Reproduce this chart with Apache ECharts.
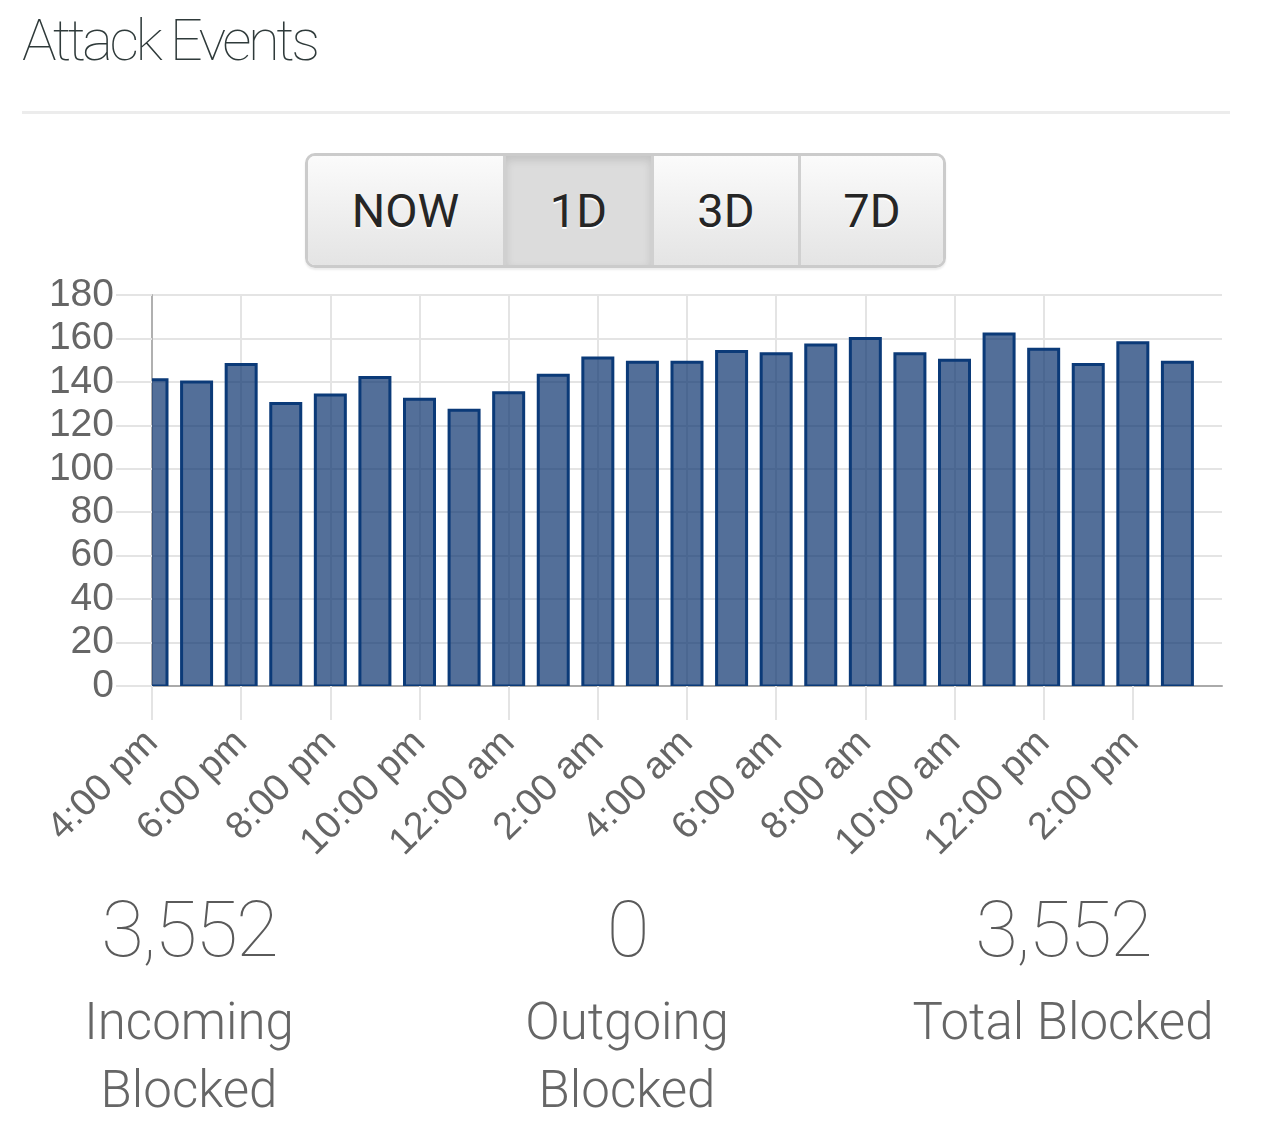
<!DOCTYPE html>
<html>
<head>
<meta charset="utf-8">
<script src="https://cdn.jsdelivr.net/npm/echarts@6/dist/echarts.min.js"></script>
<style>
    body { margin: 0; width: 1266px; height: 1136px; background: #fff; overflow: hidden; position: relative; }
    #graph-container { position: absolute; left: 0; top: 0; width: 1266px; height: 1136px; }
    .title { position: absolute; left: 22px; top: 6px; font-family: Roboto, sans-serif; font-weight: 100; font-size: 58px; letter-spacing: -3.5px; color: #2f3a3a; }
    .rule { position: absolute; left: 22px; top: 111px; width: 1208px; height: 3px; background: #ececec; }
    .btns { position: absolute; left: 305px; top: 153px; width: 635px; height: 109px; border: 3px solid #cbcbcb; border-radius: 10px; display: flex; overflow: hidden; box-shadow: 0 2px 2px rgba(0,0,0,0.08); }
    .btn { height: 100%; display: flex; align-items: center; justify-content: center; font-family: Roboto, sans-serif; font-size: 47px; color: #262626; text-shadow: 0 2px 0 #fff; background: linear-gradient(#fbfbfb, #e4e4e4); border-right: 3px solid #d0d0d0; box-sizing: border-box; }
    .btn:last-child { border-right: none; }
    .btn.on { background: #dcdcdc; box-shadow: inset 0 4px 8px rgba(0,0,0,0.12); }
    .stat { position: absolute; top: 882px; width: 360px; text-align: center; font-family: Roboto, sans-serif; color: #5a5a5a; }
    .stat .num { font-size: 78px; font-weight: 100; letter-spacing: -2px; line-height: 96px; }
    .stat .lbl { font-size: 51px; font-weight: 300; line-height: 68px; margin-top: 10px; color: #666; }
</style>
</head>
<body>
<div id="graph-container"></div>
<div class="title">Attack Events</div>
<div class="rule"></div>
<div class="btns">
    <div class="btn" style="width:198px">NOW</div>
    <div class="btn on" style="width:148px">1D</div>
    <div class="btn" style="width:147px">3D</div>
    <div class="btn" style="width:142px">7D</div>
</div>
<div class="stat" style="left:9px"><div class="num">3,552</div><div class="lbl">Incoming<br>Blocked</div></div>
<div class="stat" style="left:447px"><div class="num">0</div><div class="lbl">Outgoing<br>Blocked</div></div>
<div class="stat" style="left:883px"><div class="num">3,552</div><div class="lbl">Total Blocked</div></div>
<script>
const hours = [
    "4:00 pm", "5:00 pm", "6:00 pm", "7:00 pm", "8:00 pm", "9:00 pm",
    "10:00 pm", "11:00 pm", "12:00 am", "1:00 am", "2:00 am", "3:00 am",
    "4:00 am", "5:00 am", "6:00 am", "7:00 am", "8:00 am", "9:00 am",
    "10:00 am", "11:00 am", "12:00 pm", "1:00 pm", "2:00 pm", "3:00 pm"
];
const attacks = [
    141, 140, 148, 130, 134, 142, 132, 127, 135, 143, 151, 149,
    149, 154, 153, 157, 160, 153, 150, 162, 155, 148, 158, 149
];
const labelHours = hours.map((h, i) => i).filter(i => i % 2 === 0);

const BAR_W = 30;

// bars as custom rects so the first one gets cut at the y axis
function renderBar(params, api) {
    const top = api.coord([api.value(0), api.value(1)]);
    const base = api.coord([api.value(0), 0]);
    return {
        type: "rect",
        shape: {
            x: top[0] - BAR_W / 2,
            y: top[1],
            width: BAR_W,
            height: base[1] - top[1]
        },
        style: api.style()
    };
}

const chart = echarts.init(document.getElementById("graph-container"));

chart.setOption({
    animation: false,
    grid: {
        left: 152,
        right: 44,
        top: 295,
        bottom: 450
    },
    xAxis: {
        type: "value",
        min: 0,
        max: 24,
        interval: 2,
        axisLine: { lineStyle: { color: "#aaa", width: 2 } },
        axisTick: {
            customValues: labelHours,
            length: 34,
            lineStyle: { color: "#e4e4e4", width: 2 }
        },
        axisLabel: {
            customValues: labelHours,
            formatter: v => hours[v],
            rotate: 45,
            margin: 51,
            fontFamily: "Liberation Sans, Arial, sans-serif",
            fontSize: 38,
            color: "#666"
        },
        splitLine: {
            show: true,
            showMaxLine: false,
            lineStyle: { color: "#e4e4e4", width: 2 }
        }
    },
    yAxis: {
        type: "value",
        min: 0,
        max: 180,
        interval: 20,
        axisLine: { show: true, lineStyle: { color: "#b0b0b0", width: 2 } },
        axisTick: { show: true, length: 36, lineStyle: { color: "#e4e4e4", width: 2 } },
        axisLabel: {
            margin: 38,
            fontFamily: "Liberation Sans, Arial, sans-serif",
            fontSize: 39,
            color: "#666"
        },
        splitLine: { lineStyle: { color: "#e4e4e4", width: 2 } }
    },
    series: [{
        type: "custom",
        clip: true,
        renderItem: renderBar,
        encode: { x: 0, y: 1 },
        data: attacks.map((v, i) => [i, v]),
        itemStyle: {
            color: "rgba(10, 50, 110, 0.7)",
            borderColor: "#0b3a78",
            borderWidth: 3
        }
    }]
});
</script>
</body>
</html>
